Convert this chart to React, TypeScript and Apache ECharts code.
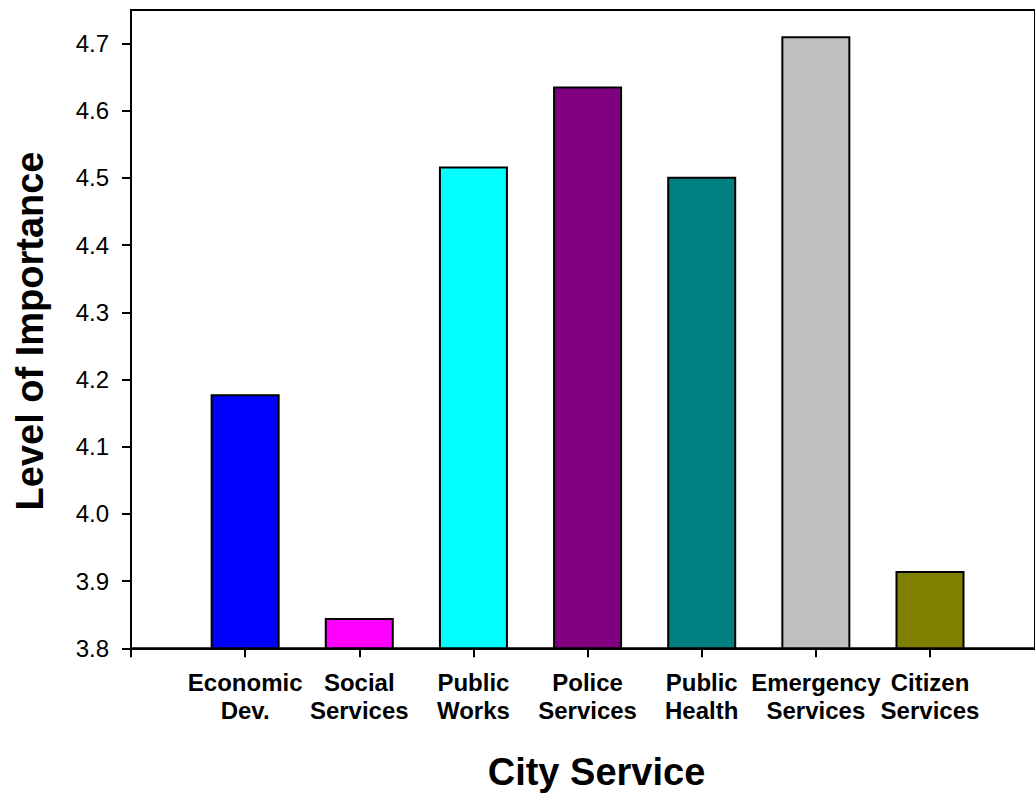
import React, { useEffect, useRef } from "react";
import * as echarts from "echarts";

const categories = [
  "Economic\nDev.",
  "Social\nServices",
  "Public\nWorks",
  "Police\nServices",
  "Public\nHealth",
  "Emergency\nServices",
  "Citizen\nServices",
];
const values = [4.178, 3.845, 4.517, 4.636, 4.502, 4.711, 3.915];
const colors = ["#0000FF", "#FF00FF", "#00FFFF", "#800080", "#008080", "#C0C0C0", "#808000"];
const yTicks = [3.8, 3.9, 4.0, 4.1, 4.2, 4.3, 4.4, 4.5, 4.6, 4.7];

const FONT = "'Liberation Sans', Arial, Helvetica, sans-serif";

export default function App() {
  const ref = useRef<HTMLDivElement>(null);
  useEffect(() => {
    if (!ref.current) return;
    const chart = echarts.init(ref.current, null, { renderer: "svg" });
    chart.setOption({
      animation: false,
      backgroundColor: "#ffffff",
      grid: {
        left: 131,
        top: 10,
        right: 0,
        bottom: 147.7,
        show: true,
        borderColor: "#000",
        borderWidth: 2,
        backgroundColor: "transparent",
      },
      xAxis: {
        type: "value",
        min: 0,
        max: 7.92,
        interval: 1,
        splitLine: { show: false },
        axisLine: { show: true, lineStyle: { color: "#000", width: 2 } },
        axisTick: { show: true, length: 9, lineStyle: { color: "#000", width: 2 } },
        axisLabel: {
          margin: 20,
          color: "#000",
          fontFamily: FONT,
          fontWeight: "bold",
          fontSize: 24,
          lineHeight: 28,
          align: "center",
          showMaxLabel: false,
          formatter: (v: number) => (v >= 1 && v <= categories.length ? categories[v - 1] : ""),
        },
      },
      yAxis: {
        type: "value",
        min: 3.8,
        max: 4.75,
        splitLine: { show: false },
        axisLine: { show: true, lineStyle: { color: "#000", width: 2 } },
        axisTick: { show: true, length: 9, customValues: yTicks, lineStyle: { color: "#000", width: 2 } },
        axisLabel: {
          margin: 22,
          color: "#000",
          fontFamily: FONT,
          fontSize: 24,
          customValues: yTicks,
          formatter: (v: number) => v.toFixed(1),
        },
      },
      series: [
        {
          type: "bar",
          barWidth: 69,
          data: values.map((v, i) => ({
            value: [i + 1, v],
            itemStyle: { color: colors[i], borderColor: "#000", borderWidth: 2 },
          })),
        },
      ],
      graphic: [
        {
          type: "text",
          x: 596.5,
          y: 772,
          style: {
            text: "City Service",
            fill: "#000",
            font: `bold 38px ${FONT}`,
            align: "center",
            verticalAlign: "middle",
          },
        },
        {
          type: "text",
          x: 30,
          y: 331,
          rotation: Math.PI / 2,
          style: {
            text: "Level of Importance",
            fill: "#000",
            font: `bold 38px ${FONT}`,
            align: "center",
            verticalAlign: "middle",
          },
        },
      ],
    });
    return () => chart.dispose();
  }, []);
  return <div ref={ref} style={{ width: 1035, height: 796, position: "fixed", left: 0, top: 0 }} />;
}
